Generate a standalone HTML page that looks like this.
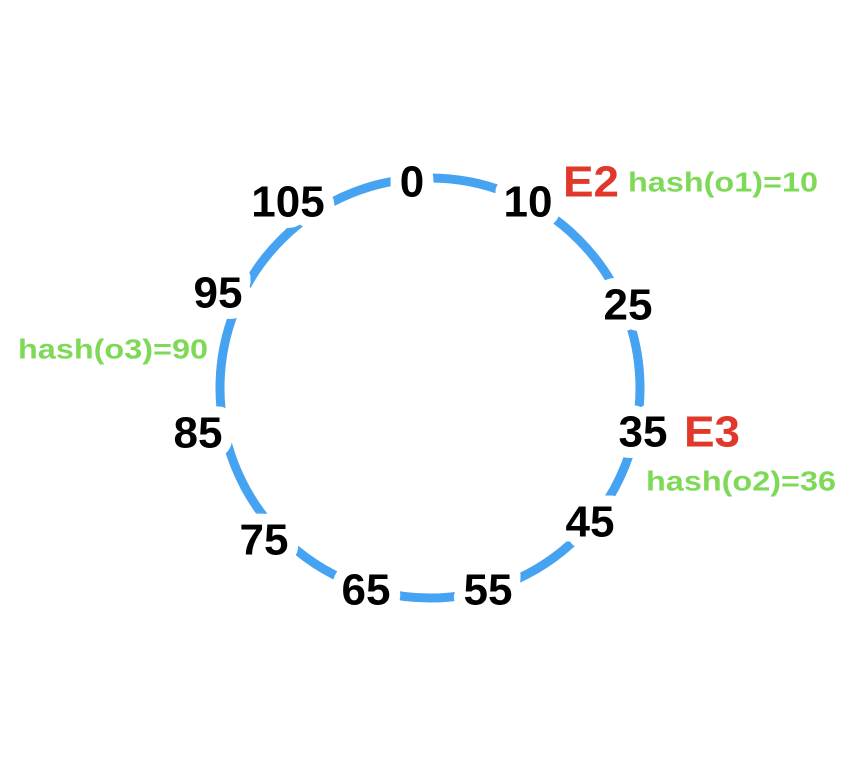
<!DOCTYPE html>
<html><head><meta charset="utf-8"><style>html,body{margin:0;padding:0;background:#fff}</style></head>
<body>
<svg width="850" height="770" viewBox="0 0 850 770" xmlns="http://www.w3.org/2000/svg">
<circle cx="430" cy="388" r="210" fill="none" stroke="#46a3f2" stroke-width="9"/>
<g font-family="Liberation Sans, sans-serif" font-weight="bold" font-size="44" text-anchor="middle" dominant-baseline="central" fill="#000" stroke="#fff" stroke-width="22" paint-order="stroke" stroke-linejoin="round">
<text x="412" y="182">0</text>
<text x="528" y="202">10</text>
<text x="628" y="305">25</text>
<text x="643" y="432">35</text>
<text x="590" y="522">45</text>
<text x="488" y="590">55</text>
<text x="366" y="590">65</text>
<text x="264" y="540">75</text>
<text x="198" y="433">85</text>
<text x="218" y="293">95</text>
<text x="288" y="202">105</text>
</g>
<g font-family="Liberation Sans, sans-serif" font-weight="bold" dominant-baseline="central">
<text x="563" y="182" font-size="44" fill="#e0392b" textLength="56" lengthAdjust="spacingAndGlyphs">E2</text>
<text x="684" y="432" font-size="44" fill="#e0392b" textLength="56" lengthAdjust="spacingAndGlyphs">E3</text>
<text x="628" y="182" font-size="28" fill="#7ed957" textLength="190" lengthAdjust="spacingAndGlyphs">hash(o1)=10</text>
<text x="646" y="481" font-size="28" fill="#7ed957" textLength="190" lengthAdjust="spacingAndGlyphs">hash(o2)=36</text>
<text x="18" y="349" font-size="28" fill="#7ed957" textLength="190" lengthAdjust="spacingAndGlyphs">hash(o3)=90</text>
</g>
</svg>
</body></html>
